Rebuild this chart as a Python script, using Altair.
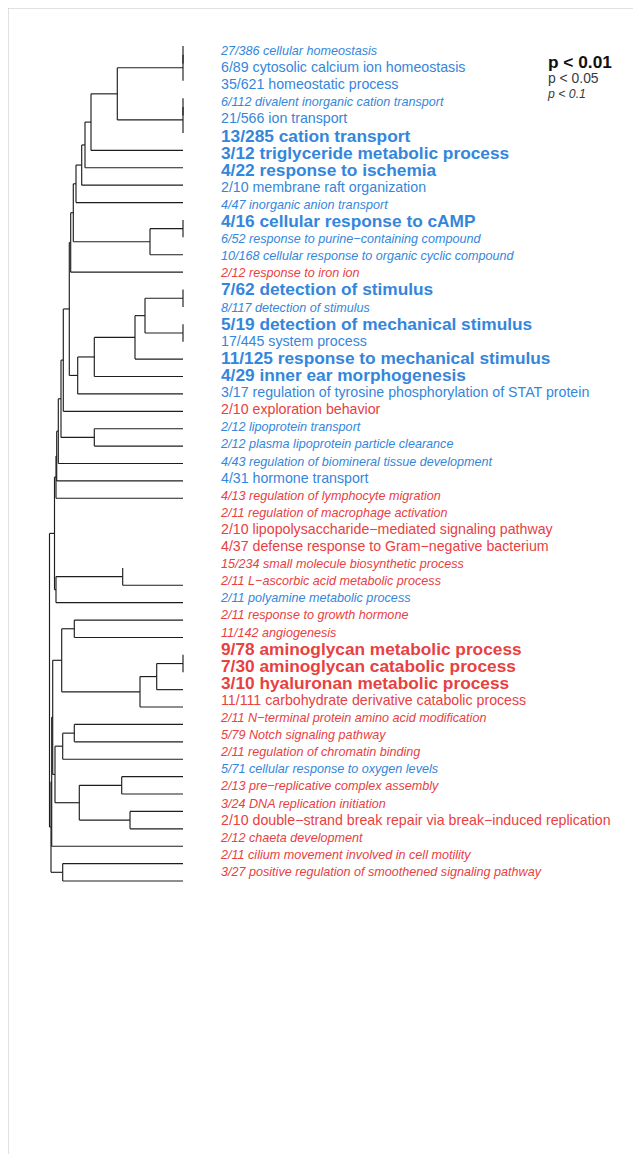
import altair as alt
import pandas as pd

# ---------------- data ----------------
hits = [27, 6, 35, 6, 21, 13, 3, 4, 2, 4,
        4, 6, 10, 2, 7, 8, 5, 17, 11, 4,
        3, 2, 2, 2, 4, 4, 4, 2, 2, 4,
        15, 2, 2, 2, 11, 9, 7, 3, 11, 2,
        5, 2, 5, 2, 3, 2, 2, 2, 3]
sizes = [386, 89, 621, 112, 566, 285, 12, 22, 10, 47,
         16, 52, 168, 12, 62, 117, 19, 445, 125, 29,
         17, 10, 12, 12, 43, 31, 13, 11, 10, 37,
         234, 11, 11, 11, 142, 78, 30, 10, 111, 11,
         79, 11, 71, 13, 24, 10, 12, 11, 27]
terms = [
    "cellular homeostasis", "cytosolic calcium ion homeostasis", "homeostatic process",
    "divalent inorganic cation transport", "ion transport", "cation transport",
    "triglyceride metabolic process", "response to ischemia", "membrane raft organization",
    "inorganic anion transport", "cellular response to cAMP",
    "response to purine\u2212containing compound", "cellular response to organic cyclic compound",
    "response to iron ion", "detection of stimulus", "detection of stimulus",
    "detection of mechanical stimulus", "system process", "response to mechanical stimulus",
    "inner ear morphogenesis", "regulation of tyrosine phosphorylation of STAT protein",
    "exploration behavior", "lipoprotein transport", "plasma lipoprotein particle clearance",
    "regulation of biomineral tissue development", "hormone transport",
    "regulation of lymphocyte migration", "regulation of macrophage activation",
    "lipopolysaccharide\u2212mediated signaling pathway",
    "defense response to Gram\u2212negative bacterium", "small molecule biosynthetic process",
    "L\u2212ascorbic acid metabolic process", "polyamine metabolic process",
    "response to growth hormone", "angiogenesis", "aminoglycan metabolic process",
    "aminoglycan catabolic process", "hyaluronan metabolic process",
    "carbohydrate derivative catabolic process", "N\u2212terminal protein amino acid modification",
    "Notch signaling pathway", "regulation of chromatin binding",
    "cellular response to oxygen levels", "pre\u2212replicative complex assembly",
    "DNA replication initiation", "double\u2212strand break repair via break\u2212induced replication",
    "chaeta development", "cilium movement involved in cell motility",
    "positive regulation of smoothened signaling pathway",
]
# b: p < 0.01, n: p < 0.05, i: p < 0.1
sig = ["i", "n", "n", "i", "n", "b", "b", "b", "n", "i",
       "b", "i", "i", "i", "b", "i", "b", "n", "b", "b",
       "n", "n", "i", "i", "i", "n", "i", "i", "n", "n",
       "i", "i", "i", "i", "i", "b", "b", "b", "n", "i",
       "i", "i", "i", "i", "i", "n", "i", "i", "i"]
direction = ["up"] * 13 + ["down"] + ["up"] * 7 + ["down"] + ["up"] * 4 + ["down"] * 6 + \
            ["up"] + ["down"] * 9 + ["up"] + ["down"] * 6

# hclust-style merges: negative = leaf index, positive = earlier merge number
merge_left = [-1, 1, -4, 3, 2, 5, 6, 7, 8, -11, 10, 9, 12, -15, -17, 14, 16, 17, 18, 13,
              20, -23, 21, 23, 24, 25, -31, 27, 26, -34, -36, 31, 32, 30, -40, 35, -43, -45,
              37, 36, 34, 41, -48, 42, 29]
merge_right = [-2, -3, -5, -6, 4, -7, -8, -9, -10, -12, -13, 11, -14, -16, -18, 15, -19, -20,
               -21, 19, -22, -24, 22, -25, -26, -27, -32, -33, 28, -35, -37, -38, -39, 33, -41,
               -42, -44, -46, 38, 39, 40, -47, -49, 43, 44]
merge_height = [0, 0, 0, 0, 65.7, 92, 98, 101.3, 107, 0, 33, 109.7, 112.3, 0, 0, 38, 48, 88.7,
                105.3, 113.7, 119.7, 88.7, 122, 124.7, 126.3, 127, 60.3, 127, 128.5, 108.7, 0,
                26.3, 43, 121.3, 108.7, 120.3, 61.3, 53, 103.7, 128, 130.3, 131.3, 120.3, 132,
                133.5]
hidden_leaves = [28, 29, 30, 31]

legend_labels = ["p < 0.01", "p < 0.05", "p < 0.1"]

# ---------------- build tables ----------------
labels = pd.DataFrame({
    "idx": list(range(1, len(terms) + 1)),
    "label": [f"{h}/{s} {t}" for h, s, t in zip(hits, sizes, terms)],
    "sig": sig,
    "dir": direction,
})

pos, hgt = {}, {}
segs = []


def node(ref):
    if ref < 0:
        return float(-ref), 0.0
    return pos[ref], hgt[ref]


for k, (a, b, h) in enumerate(zip(merge_left, merge_right, merge_height), start=1):
    pa, ha = node(a)
    pb, hb = node(b)
    segs.append({"h1": h, "h2": h, "p1": pa, "p2": pb})
    for ref, p, hh in ((a, pa, ha), (b, pb, hb)):
        if ref < 0 and -ref in hidden_leaves:
            continue
        segs.append({"h1": hh, "h2": h, "p1": p, "p2": p})
    pos[k] = (pa + pb) / 2
    hgt[k] = h
segs = pd.DataFrame(segs)

BLUE = "#3486dc"
RED = "#e8413f"
FONT = "Liberation Sans"

xs = alt.Scale(domain=[0, 175], range=[175, 0], zero=False, nice=False)
ys_tree = alt.Scale(domain=[1, 49], range=[38, 873], zero=False, nice=False)
ys_lab = alt.Scale(domain=[1, 49], range=[43, 864], zero=False, nice=False)

tree = alt.Chart(segs).mark_rule(color="#1e1e1e", strokeWidth=1.15).encode(
    x=alt.X("h1:Q", scale=xs, axis=None),
    x2="h2:Q",
    y=alt.Y("p1:Q", scale=ys_tree, axis=None),
    y2="p2:Q",
)

styles = {"b": dict(fontSize=17.3, fontWeight="bold", fontStyle="normal"),
          "n": dict(fontSize=14.2, fontWeight="normal", fontStyle="normal"),
          "i": dict(fontSize=12.6, fontWeight="normal", fontStyle="italic")}

text_layers = []
for key, st in styles.items():
    text_layers.append(
        alt.Chart(labels).transform_filter(alt.datum.sig == key).mark_text(
            align="left", baseline="middle", font=FONT, **st
        ).encode(
            x=alt.value(213),
            y=alt.Y("idx:Q", scale=ys_lab, axis=None),
            text="label:N",
            color=alt.Color("dir:N", scale=alt.Scale(domain=["up", "down"], range=[BLUE, RED]),
                            legend=None),
        )
    )

leg_df = pd.DataFrame({"lab": legend_labels, "k": ["b", "n", "i"]})
leg_layers = []
leg_y = [54.5, 71, 85.5]
leg_col = ["#111111", "#3a3a3a", "#3a3a3a"]
for (key, st), yy, cc in zip(styles.items(), leg_y, leg_col):
    leg_layers.append(
        alt.Chart(leg_df).transform_filter(alt.datum.k == key).mark_text(
            align="left", baseline="middle", font=FONT, color=cc,
            **{**st, "fontSize": st["fontSize"] - (0 if key == "b" else 0.3)}
        ).encode(x=alt.value(540), y=alt.value(yy), text="lab:N")
    )

frame_df = pd.DataFrame({"e": ["top", "left"]})
frame_top = alt.Chart(frame_df).transform_filter(alt.datum.e == "top").mark_rule(
    color="#c4c4c4", strokeWidth=1).encode(x=alt.value(0), x2=alt.value(640), y=alt.value(0))
frame_left = alt.Chart(frame_df).transform_filter(alt.datum.e == "left").mark_rule(
    color="#c4c4c4", strokeWidth=1).encode(x=alt.value(0), y=alt.value(0), y2=alt.value(1160))

chart = alt.layer(
    frame_top, frame_left, tree, *text_layers, *leg_layers
).resolve_scale(y="independent", x="independent").properties(
    width=625, height=1146, padding=0,
    autosize=alt.AutoSizeParams(type="none"),
).configure_view(stroke=None)

chart.save("out.html", embed_options={"renderer": "svg", "actions": False})
